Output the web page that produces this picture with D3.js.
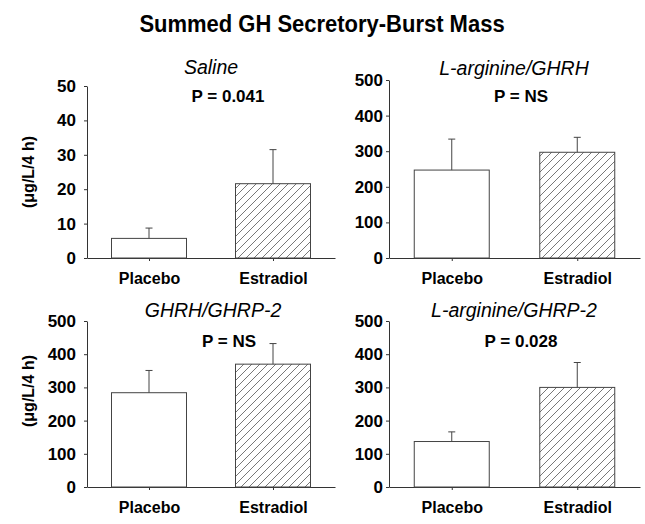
<!DOCTYPE html>
<html><head><meta charset="utf-8">
<script src="https://cdn.jsdelivr.net/npm/d3@7"></script>
<style>
body{margin:0;background:#fff}
text{font-family:"Liberation Sans",Arial,Helvetica,sans-serif;fill:#000}
</style>
</head><body>
<svg id="c" width="645" height="524"></svg>
<script>
// ---- data ----
const groups = ["Placebo", "Estradiol"];
const panelTitles = ["Saline", "L-arginine/GHRH", "GHRH/GHRP-2", "L-arginine/GHRP-2"];
const pLabels = ["P = 0.041", "P = NS", "P = NS", "P = 0.028"];
const yMaxes = [50, 500, 500, 500];
const yTickValues = [
  [0, 10, 20, 30, 40, 50],
  [0, 100, 200, 300, 400, 500],
  [0, 100, 200, 300, 400, 500],
  [0, 100, 200, 300, 400, 500]
];
const meanValues = [[5.7, 21.6], [247, 297], [284, 370], [137, 300]];
const errorTops = [[8.7, 31.5], [334, 339], [351, 432], [166, 375]];
const yAxisTitle = "(\u03bcg/L/4 h)";
const chartTitle = "Summed GH Secretory-Burst Mass";

// ---- layout ----
const layout = [
  {x0: 87, x1: 335, yb: 258, yt: 86, tp: 8, title: [211, 74], p: [228, 102], ylab: [28, 172]},
  {x0: 389, x1: 640, yb: 258, yt: 80, tp: 3, title: [514, 75], p: [521, 102], ylab: null},
  {x0: 87, x1: 335, yb: 487, yt: 321, tp: 8, title: [213, 317], p: [229, 347], ylab: [28, 391]},
  {x0: 389, x1: 640, yb: 487, yt: 321, tp: 3, title: [514, 317], p: [521, 347], ylab: null}
];
const barW = 75;

const svg = d3.select("#c");
const defs = svg.append("defs");
const pat = defs.append("pattern").attr("id", "hatch")
  .attr("patternUnits", "userSpaceOnUse").attr("width", 8).attr("height", 8);
pat.append("rect").attr("width", 8).attr("height", 8).attr("fill", "#fff");
pat.append("path").attr("d", "M-2,2 L2,-2 M0,8 L8,0 M6,10 L10,6")
  .attr("stroke", "#555").attr("stroke-width", 0.8);

svg.append("text").attr("transform", "translate(322,32) scale(1,1.08)").attr("text-anchor", "middle")
  .attr("font-weight", "bold").attr("font-size", 22).text(chartTitle);

layout.forEach((L, i) => {
  const g = svg.append("g");
  const x = d3.scalePoint().domain(groups).range([L.x0, L.x1]).padding(0.5);
  const y = d3.scaleLinear().domain([0, yMaxes[i]]).range([L.yb, L.yt]);

  // y axis
  const ya = g.append("g").attr("transform", `translate(${L.x0},0)`)
    .call(d3.axisLeft(y).tickValues(yTickValues[i]).tickSize(3).tickPadding(L.tp).tickSizeOuter(0));
  ya.selectAll("path,line").attr("stroke", "#333");
  ya.selectAll("text").attr("font-size", 17).attr("font-weight", "bold")
    .attr("font-family", "Liberation Sans, Arial, sans-serif").attr("fill", "#000");

  // x axis
  const xa = g.append("g").attr("transform", `translate(0,${L.yb})`)
    .call(d3.axisBottom(x).tickSize(3).tickSizeOuter(0).tickPadding(12));
  xa.selectAll("path,line").attr("stroke", "#333");
  xa.selectAll("text").attr("font-size", 16).attr("font-weight", "bold")
    .attr("font-family", "Liberation Sans, Arial, sans-serif").attr("fill", "#000");

  // bars
  groups.forEach((grp, j) => {
    const cx = x(grp);
    g.append("rect").attr("x", cx - barW / 2).attr("width", barW)
      .attr("y", y(meanValues[i][j])).attr("height", L.yb - y(meanValues[i][j]))
      .attr("fill", j === 0 ? "#fff" : "url(#hatch)")
      .attr("stroke", "#444").attr("stroke-width", 1);
    g.append("line").attr("x1", cx).attr("x2", cx)
      .attr("y1", y(meanValues[i][j])).attr("y2", y(errorTops[i][j]))
      .attr("stroke", "#444");
    g.append("line").attr("x1", cx - 3.5).attr("x2", cx + 3.5)
      .attr("y1", y(errorTops[i][j])).attr("y2", y(errorTops[i][j]))
      .attr("stroke", "#444");
  });

  g.append("text").attr("x", L.title[0]).attr("y", L.title[1]).attr("text-anchor", "middle")
    .attr("font-style", "italic").attr("font-size", 19.5).text(panelTitles[i]);
  g.append("text").attr("x", L.p[0]).attr("y", L.p[1]).attr("text-anchor", "middle")
    .attr("font-weight", "bold").attr("font-size", 17).text(pLabels[i]);

  if (L.ylab) {
    g.append("text").attr("transform", `translate(${L.ylab[0] + 6},${L.ylab[1]}) rotate(-90)`)
      .attr("text-anchor", "middle").attr("font-weight", "bold").attr("font-size", 16).text(yAxisTitle);
  }
});
</script>
</body></html>
